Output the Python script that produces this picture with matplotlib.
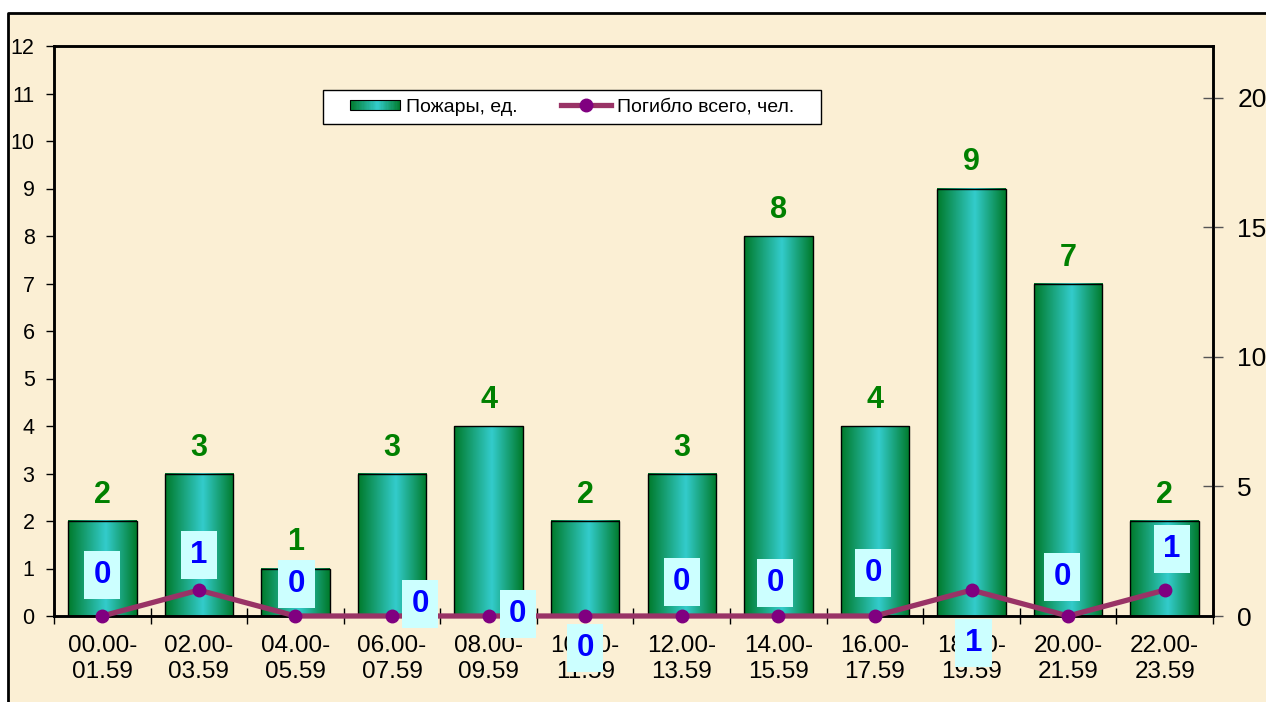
import numpy as np
import matplotlib
matplotlib.use("Agg")
import matplotlib.pyplot as plt
from matplotlib.colors import LinearSegmentedColormap
from matplotlib.patches import Rectangle
from matplotlib.lines import Line2D
from matplotlib.legend_handler import HandlerBase

plt.rcParams["font.family"] = ["Liberation Sans", "DejaVu Sans"]

# data
periods = ["00.00-\n01.59", "02.00-\n03.59", "04.00-\n05.59", "06.00-\n07.59",
           "08.00-\n09.59", "10.00-\n11.59", "12.00-\n13.59", "14.00-\n15.59",
           "16.00-\n17.59", "18.00-\n19.59", "20.00-\n21.59", "22.00-\n23.59"]
fires = [2, 3, 1, 3, 4, 2, 3, 8, 4, 9, 7, 2]
deaths = [0, 1, 0, 0, 0, 0, 0, 0, 0, 1, 0, 1]

fires_label = "Пожары, ед."
deaths_label = "Погибло всего, чел."

# where each blue label box sits relative to its point (pixels, up is positive)
death_label_offsets = [(0, 41), (0, 35), (1, 32), (28, 12), (29, 2), (0, -32),
                       (0, 34), (-3, 33), (-2, 43), (2, -53), (-6, 39), (7, 41)]

BG = "#fbefd4"
bar_cmap = LinearSegmentedColormap.from_list(
    "bar", [(0.0, "#007a2a"), (0.55, "#33cccc"), (1.0, "#007a2a")])


class GradientHandler(HandlerBase):
    def create_artists(self, legend, orig_handle, xdescent, ydescent,
                       width, height, fontsize, trans):
        n = 40
        arts = []
        for k in range(n):
            arts.append(Rectangle((-xdescent + width * k / n, -ydescent + height * 0.15),
                                  width / n + 0.3, height * 0.7,
                                  facecolor=bar_cmap((k + 0.5) / n),
                                  edgecolor="none", transform=trans))
        arts.append(Rectangle((-xdescent, -ydescent + height * 0.15), width, height * 0.7,
                              fill=False, edgecolor="black", lw=0.8, transform=trans))
        return arts


fig = plt.figure(figsize=(12.66, 7.02), dpi=100, facecolor="white")
# page background with the black frame at left/top
fig.patches.append(Rectangle((8 / 1266, 0), 1, 1 - 13 / 702, transform=fig.transFigure,
                             facecolor=BG, edgecolor="none", zorder=-10))
fig.lines.append(Line2D([8 / 1266, 8 / 1266, 1.0], [0, 1 - 13 / 702, 1 - 13 / 702],
                        transform=fig.transFigure, color="black", lw=2))

ax = fig.add_axes([54 / 1266, 1 - 616 / 702, (1213 - 54) / 1266, (616 - 46) / 702])
ax.set_facecolor("none")
x = np.arange(len(periods))

bars = ax.bar(x, fires, width=0.71, color="none", edgecolor="black", lw=1, zorder=3)
grad = np.linspace(0, 1, 256).reshape(1, -1)
for b in bars:
    x0, w, h = b.get_x(), b.get_width(), b.get_height()
    ax.imshow(grad, cmap=bar_cmap, aspect="auto", extent=(x0, x0 + w, 0, h),
              interpolation="bilinear", zorder=2)

for xi, v in zip(x, fires):
    ax.annotate(str(v), (xi, v), xytext=(0, 18), textcoords="offset pixels",
                ha="center", va="baseline", fontsize=22, fontweight="bold",
                color="#008000", zorder=5)

ax.set_xlim(-0.5, len(periods) - 0.5)
ax.set_ylim(0, 12)
ax.set_yticks(range(0, 13))
ax.set_xticks(np.arange(-0.5, len(periods), 1.0))
ax.set_xticklabels([])
ax.set_xticks(x, minor=True)
ax.set_xticklabels(periods, minor=True, fontsize=17.5, linespacing=1.2)
ax.tick_params(axis="x", which="major", direction="inout", length=12, width=1)
ax.tick_params(axis="x", which="minor", length=0, pad=14)
ax.tick_params(axis="y", direction="out", length=6, width=1, labelsize=15.5, pad=8)
for s in ax.spines.values():
    s.set_linewidth(1.8)

ax2 = ax.twinx()
ax2.set_ylim(0, 22)
ax2.set_yticks([0, 5, 10, 15, 20])
ax2.tick_params(axis="y", direction="inout", length=15, width=1, labelsize=19,
                pad=10, color="#555555")
for s in ax2.spines.values():
    s.set_linewidth(1.8)
line, = ax2.plot(x, deaths, color="#993366", lw=3.8, marker="o", markersize=9,
                 markerfacecolor="#800080", markeredgecolor="#800080", zorder=4,
                 clip_on=False)

for xi, v, (dx, dy) in zip(x, deaths, death_label_offsets):
    ax2.annotate(str(v), (xi, v), xytext=(dx, dy), textcoords="offset pixels",
                 ha="center", va="center", fontsize=22.5, fontweight="bold",
                 color="#0000ff", annotation_clip=False, zorder=6,
                 bbox=dict(boxstyle="square,pad=0.3", facecolor="#ccffff",
                           edgecolor="none"))

proxy = Rectangle((0, 0), 1, 1)
leg = fig.legend([proxy, line], [fires_label, deaths_label], ncol=2,
                 loc="center", bbox_to_anchor=(572 / 1266, 1 - 107 / 702),
                 handler_map={proxy: GradientHandler()}, fontsize=14,
                 frameon=True, fancybox=False, framealpha=1, edgecolor="black",
                 handlelength=2.6, handletextpad=0.3, columnspacing=2.2,
                 borderpad=0.4, borderaxespad=0)
leg.get_frame().set_linewidth(1)
leg._legend_box.set_width(482)

fig.savefig("out.png", dpi=100, facecolor="white")
